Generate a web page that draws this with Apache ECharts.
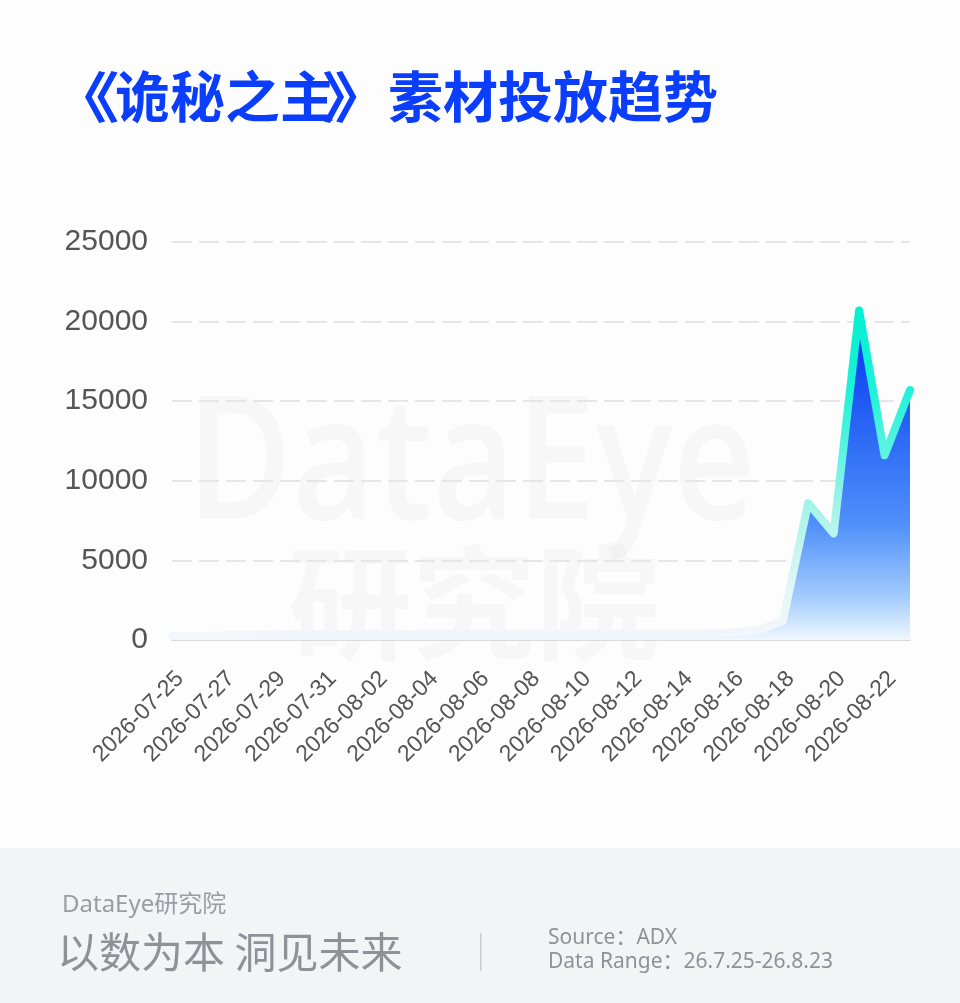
<!DOCTYPE html>
<html>
<head>
<meta charset="utf-8">
<script src="https://cdn.jsdelivr.net/npm/echarts@6/dist/echarts.min.js"></script>
<style>
html,body{margin:0;padding:0;background:#fdfdfd;}
#c{width:960px;height:1003px;}
</style>
</head>
<body>
<div id="c"></div>
<script>
var titleLeftBracket = '《';
var titleName = '诡秘之主';
var titleRightBracket = '》';
var titleRest = '素材投放趋势';
var categories = ['2026-07-25','2026-07-26','2026-07-27','2026-07-28','2026-07-29','2026-07-30','2026-07-31',
  '2026-08-01','2026-08-02','2026-08-03','2026-08-04','2026-08-05','2026-08-06','2026-08-07','2026-08-08',
  '2026-08-09','2026-08-10','2026-08-11','2026-08-12','2026-08-13','2026-08-14','2026-08-15','2026-08-16',
  '2026-08-17','2026-08-18','2026-08-19','2026-08-20','2026-08-21','2026-08-22','2026-08-23'];
var values = [250, 260, 280, 330, 360, 370, 380, 380, 390, 380, 390, 400, 390, 400, 410, 400, 410, 400, 420, 420, 430, 440, 470,
  600, 1200, 8600, 6700, 20700, 11600, 15700];
var yTicks = [0, 5000, 10000, 15000, 20000, 25000];
var footerBrand = 'DataEye研究院';
var footerSlogan = '以数为本 洞见未来';
var footerSource = 'Source：ADX';
var footerRange = 'Data Range：26.7.25-26.8.23';
var watermarkLatin = 'DataEye';
var watermarkCjk = '研究院';

var chart = echarts.init(document.getElementById('c'), null, {renderer:'canvas'});
var cjk = '"Noto Sans CJK SC", "Noto Sans", sans-serif';
var mixed = '"Noto Sans", "Noto Sans CJK SC", sans-serif';
var titleFont = 'bold 55px ' + cjk;
var titleColor = '#0a3efc';
var option = {
  backgroundColor: '#fdfdfd',
  animation: false,
  grid: {left: 172, right: 50, top: 242, bottom: 363, containLabel: false},
  graphic: [
    {type:'rect', left:0, top:848, shape:{width:960, height:155}, style:{fill:'#f3f4f6'}, z:-10},
    {type:'text', x:187, y:384, scaleX:0.835, z:-5, style:{text:watermarkLatin, font:'600 172px "Open Sans", sans-serif', fill:'rgba(0,0,0,0.022)'}},
    {type:'text', left:288, top:541, z:-5, style:{text:watermarkCjk, font:'bold 124px ' + cjk, fill:'rgba(0,0,0,0.022)'}},
    {type:'text', x:48, y:69, scaleX:1.3, style:{text:titleLeftBracket, font:titleFont, fill:titleColor}},
    {type:'text', x:115, y:69, style:{text:titleName, font:titleFont, fill:titleColor}},
    {type:'text', x:322, y:69, scaleX:1.3, style:{text:titleRightBracket, font:titleFont, fill:titleColor}},
    {type:'text', x:388, y:69, style:{text:titleRest, font:titleFont, fill:titleColor}},
    {type:'text', left:62, top:893, style:{text:footerBrand, font:'24px ' + mixed, fill:'#9a9ca3'}},
    {type:'text', left:57, top:931, style:{text:footerSlogan, font:'42px ' + cjk, fill:'#8f9198'}},
    {type:'rect', left:480, top:933, shape:{width:1.5, height:38}, style:{fill:'#c9cbd0'}},
    {type:'text', left:548, top:928, style:{text:footerSource, font:'21px ' + mixed, fill:'#8f9198'}},
    {type:'text', left:548, top:952, style:{text:footerRange, font:'21px ' + mixed, fill:'#8f9198'}}
  ],
  xAxis: {
    type:'category', data:categories, boundaryGap:false,
    axisLine:{show:true, lineStyle:{color:'#d9d9de', width:2}},
    axisTick:{show:false},
    axisLabel:{interval:1, rotate:45, fontSize:23, color:'#555', margin:27, verticalAlign:'top',
      fontFamily:'"Liberation Sans", Arial, sans-serif'},
    splitLine:{show:false}
  },
  yAxis: {
    type:'value', min:0, max:25000, interval:5000,
    axisLine:{show:false}, axisTick:{show:false},
    axisLabel:{fontSize:30, color:'#555', margin:24, fontFamily:'"Liberation Sans", Arial, sans-serif',
      formatter:function(v){ return yTicks.indexOf(v) >= 0 ? String(v) : ''; }},
    splitLine:{show:true, lineStyle:{color:'#e6e6e8', width:2, type:[20,7]}}
  },
  series: [{
    type:'line', data:values, showSymbol:false, symbol:'none', smooth:false,
    lineStyle:{width:8, cap:'round', join:'round',
      color:new echarts.graphic.LinearGradient(0,0,0,1,[
        {offset:0, color:'#00f0d0'},
        {offset:0.25, color:'#1ef2d8'},
        {offset:0.45, color:'#62f3e1'},
        {offset:0.62, color:'#aaf4ea'},
        {offset:0.85, color:'#e4f7f5'},
        {offset:1, color:'#f5f6fc'}
      ])},
    areaStyle:{opacity:1, color:new echarts.graphic.LinearGradient(0,0,0,1,[
        {offset:0, color:'#0030ee'},
        {offset:0.4, color:'#2f6cf6'},
        {offset:0.65, color:'#4f90fa'},
        {offset:0.88, color:'#a8cffc'},
        {offset:1, color:'#f0f7ff'}
      ])}
  }]
};
chart.setOption(option);
</script>
</body>
</html>
